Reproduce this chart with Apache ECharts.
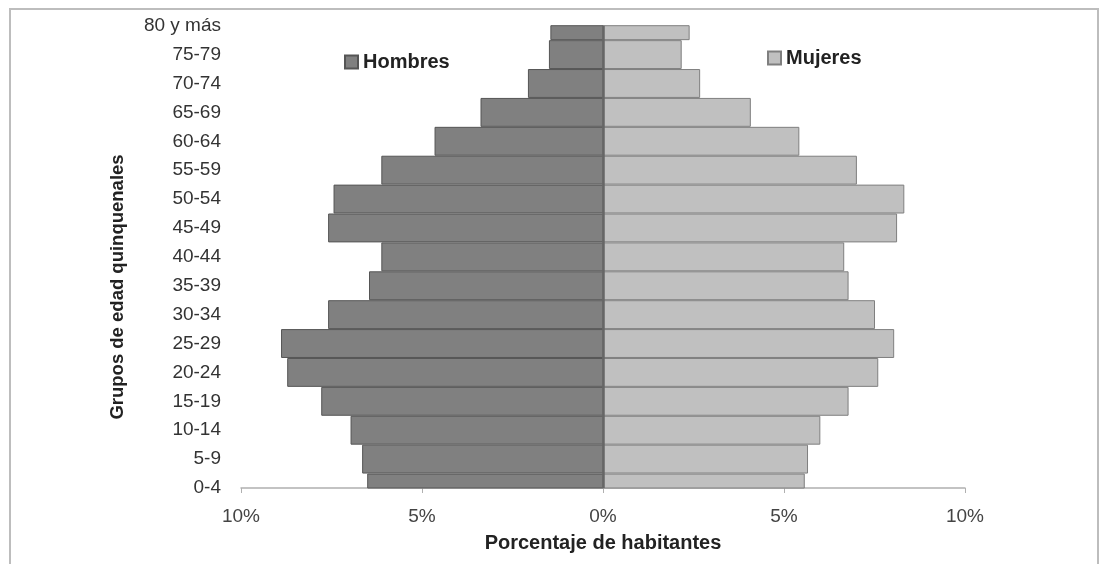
<!DOCTYPE html>
<html>
<head>
<meta charset="utf-8">
<script src="https://cdn.jsdelivr.net/npm/echarts@6/dist/echarts.min.js"></script>
<style>html,body{margin:0;padding:0;background:#fff;}#c{width:1100px;height:564px;}</style>
</head>
<body>
<div id="c"></div>
<script>
const categories = ['0-4','5-9','10-14','15-19','20-24','25-29','30-34','35-39','40-44','45-49','50-54','55-59','60-64','65-69','70-74','75-79','80 y más'];
const hombres = [6.50, 6.64, 6.96, 7.77, 8.71, 8.88, 7.58, 6.45, 6.11, 7.58, 7.43, 6.11, 4.64, 3.37, 2.06, 1.48, 1.44];
const mujeres = [5.56, 5.65, 5.99, 6.77, 7.59, 8.03, 7.50, 6.77, 6.65, 8.11, 8.31, 7.00, 5.41, 4.07, 2.67, 2.16, 2.38];
const xTicks = [-10, -5, 0, 5, 10];

const FONT = 'Liberation Sans, Arial, sans-serif';

function makeRender(fill, stroke) {
  return function (params, api) {
    const cat = api.value(0);
    const val = api.value(1);
    const p0 = api.coord([0, cat]);
    const p1 = api.coord([val, cat]);
    const band = api.size([0, 1])[1];
    const h = band - 1;
    const rect = {
      x: Math.min(p0[0], p1[0]),
      y: p0[1] - h / 2,
      width: Math.abs(p1[0] - p0[0]),
      height: h
    };
    const cs = params.coordSys;
    const clipped = echarts.graphic.clipRectByRect(rect, { x: cs.x, y: cs.y, width: cs.width, height: cs.height });
    if (!clipped) return null;
    return { type: 'rect', shape: clipped, style: { fill: fill, stroke: stroke, lineWidth: 1 } };
  };
}

const chart = echarts.init(document.getElementById('c'));
chart.setOption({
  animation: false,
  backgroundColor: '#fff',
  textStyle: { fontFamily: FONT },
  grid: { left: 241, right: 135, top: 25.7, bottom: 76 },
  legend: [
    { data: ['Hombres'], left: 344, top: 52, padding: 0, icon: 'rect', itemWidth: 13, itemHeight: 13,
      textStyle: { fontSize: 20, fontWeight: 'bold', color: '#222', fontFamily: FONT } },
    { data: ['Mujeres'], left: 767, top: 48, padding: 0, icon: 'rect', itemWidth: 13, itemHeight: 13,
      textStyle: { fontSize: 20, fontWeight: 'bold', color: '#222', fontFamily: FONT } }
  ],
  xAxis: {
    type: 'value', min: xTicks[0], max: xTicks[xTicks.length - 1], interval: 5,
    name: 'Porcentaje de habitantes', nameLocation: 'middle', nameGap: 45,
    nameTextStyle: { fontSize: 20, fontWeight: 'bold', color: '#222' },
    axisLine: { show: true, onZero: false, lineStyle: { color: '#b0b0b0', width: 1.5 } },
    axisTick: { show: true, length: 5, lineStyle: { color: '#b0b0b0' } },
    axisLabel: { fontSize: 19, color: '#444', margin: 19, formatter: v => Math.abs(v) + '%' },
    splitLine: { show: false }
  },
  yAxis: {
    type: 'category', data: categories, boundaryGap: false,
    axisLine: { show: false }, axisTick: { show: false },
    axisLabel: { fontSize: 19, color: '#333', margin: 20, padding: [3, 0, 0, 0] },
    splitLine: { show: false }
  },
  graphic: [
    { type: 'rect', shape: { x: 10, y: 9, width: 1088, height: 600 },
      style: { fill: 'none', stroke: '#bdbdbd', lineWidth: 2 }, z: -1 },
    { type: 'text', x: 118, y: 287, rotation: Math.PI / 2,
      style: { text: 'Grupos de edad quinquenales', fontSize: 18.5, fontWeight: 'bold', fill: '#222',
        fontFamily: FONT, align: 'center', verticalAlign: 'middle' } }
  ],
  series: [
    { name: 'Hombres', type: 'custom', renderItem: makeRender('#808080', '#555555'),
      encode: { x: 1, y: 0 },
      data: hombres.map((v, i) => [i, -v]),
      itemStyle: { color: '#808080', borderColor: '#555555', borderWidth: 1 },
      markLine: { silent: true, symbol: 'none', label: { show: false },
        lineStyle: { color: '#666', width: 2.5, type: 'solid' }, data: [{ xAxis: 0 }] } },
    { name: 'Mujeres', type: 'custom', renderItem: makeRender('#c0c0c0', '#7f7f7f'),
      encode: { x: 1, y: 0 },
      data: mujeres.map((v, i) => [i, v]),
      itemStyle: { color: '#c0c0c0', borderColor: '#7f7f7f', borderWidth: 1 } }
  ]
});
</script>
</body>
</html>
